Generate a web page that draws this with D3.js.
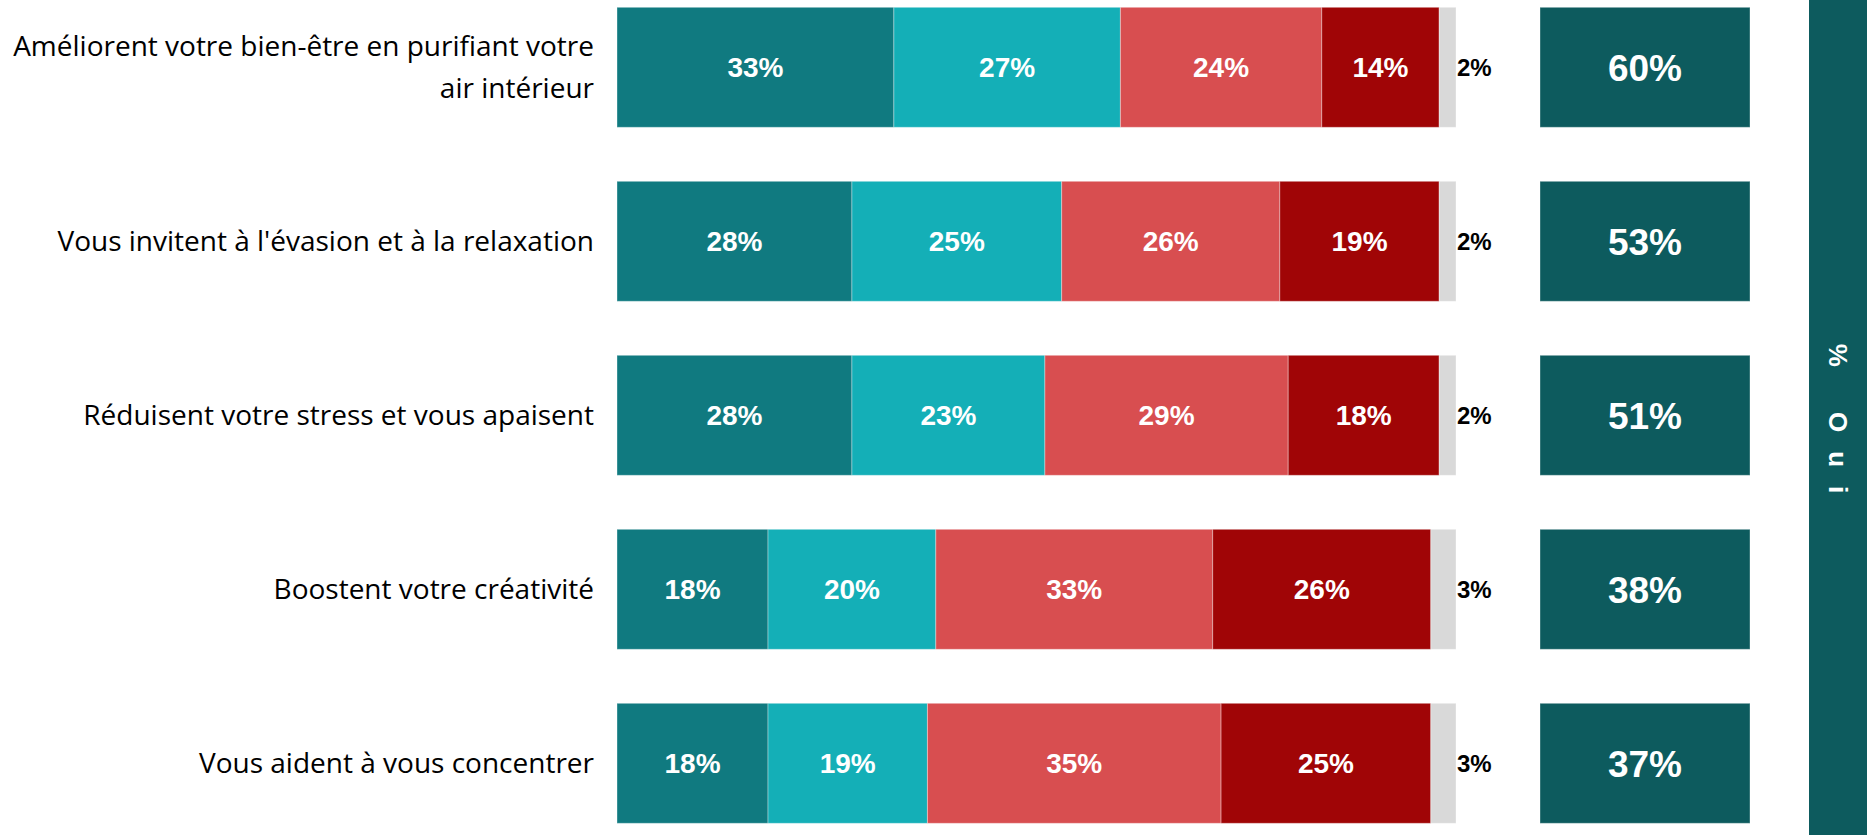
<!DOCTYPE html>
<html>
<head>
<meta charset="utf-8">
<script src="https://cdn.jsdelivr.net/npm/d3@7"></script>
<style>
  html, body { margin: 0; padding: 0; background: #ffffff; }
  svg { display: block; }
</style>
</head>
<body>
<svg id="chart" width="1871" height="835"></svg>
<script>
const categories = [
  "Améliorent votre bien-être en purifiant votre air intérieur",
  "Vous invitent à l'évasion et à la relaxation",
  "Réduisent votre stress et vous apaisent",
  "Boostent votre créativité",
  "Vous aident à vous concentrer"
];
const seriesA = [33, 28, 28, 18, 18];
const seriesB = [27, 25, 23, 20, 19];
const seriesC = [24, 26, 29, 33, 35];
const seriesD = [14, 19, 18, 26, 25];
const seriesE = [2, 2, 2, 3, 3];
const ouiValues = [60, 53, 51, 38, 37];
const ouiTitle = "% Oui";

const seriesKeys = ["A", "B", "C", "D", "E"];
const colors = { A: "#107a80", B: "#14afb7", C: "#d84e50", D: "#a00506", E: "#d9d9d9" };

const rows = categories.map((c, i) => ({
  cat: c, A: seriesA[i], B: seriesB[i], C: seriesC[i], D: seriesD[i], E: seriesE[i], oui: ouiValues[i]
}));

const svg = d3.select("#chart");
const x = d3.scaleLinear().domain([0, 100]).range([617, 1456]);
const y = d3.scaleBand().domain(categories).range([7.3, 823.3]).paddingInner(54 / 174).paddingOuter(0);

const stacked = d3.stack().keys(seriesKeys)(rows);

const layers = svg.append("g").selectAll("g").data(stacked).join("g")
  .attr("fill", d => colors[d.key]);

layers.selectAll("rect").data(d => d.map(v => ({ v, key: d.key }))).join("rect")
  .attr("x", d => x(d.v[0]))
  .attr("y", d => y(d.v.data.cat))
  .attr("width", d => x(d.v[1]) - x(d.v[0]))
  .attr("height", y.bandwidth())
  .attr("stroke", "#ffffff")
  .attr("stroke-opacity", 0.35)
  .attr("stroke-width", 1);

// labels inside segments
layers.selectAll("text").data(d => d.map(v => ({ v, key: d.key }))).join("text")
  .attr("x", d => d.key === "E" ? x(d.v[1]) + 1 : (x(d.v[0]) + x(d.v[1])) / 2)
  .attr("y", d => y(d.v.data.cat) + y.bandwidth() / 2)
  .attr("dy", "0.36em")
  .attr("text-anchor", d => d.key === "E" ? "start" : "middle")
  .attr("fill", d => d.key === "E" ? "#000000" : "#ffffff")
  .style("font-family", "'Liberation Sans', Arial, sans-serif")
  .style("font-weight", "bold")
  .style("font-size", d => d.key === "E" ? "24px" : "28px")
  .text(d => (d.v[1] - d.v[0]) + "%");

// category labels
const lab = svg.append("g").selectAll("text").data(rows).join("text")
  .attr("text-anchor", "end")
  .style("font-family", "'Open Sans', sans-serif")
  .style("font-size", "28px")
  .attr("fill", "#000000");

lab.each(function(d) {
  const t = d3.select(this);
  const words = d.cat.split(" ");
  const lines = [];
  let line = [];
  const probe = t.append("tspan");
  words.forEach(w => {
    line.push(w);
    probe.text(line.join(" "));
    if (probe.node().getComputedTextLength() > 600 && line.length > 1) {
      line.pop();
      lines.push(line.join(" "));
      line = [w];
    }
  });
  lines.push(line.join(" "));
  probe.remove();
  const cy = y(d.cat) + y.bandwidth() / 2;
  const lh = 42;
  lines.forEach((ln, k) => {
    t.append("tspan")
      .attr("x", 594)
      .attr("y", cy + 9.5 + (k - (lines.length - 1) / 2) * lh)
      .text(ln);
  });
});

// right boxes (% Oui)
const bx = d3.scaleLinear().domain([0, 1]).range([1540, 1750]);
const box = svg.append("g").selectAll("g").data(rows).join("g");
box.append("rect")
  .attr("x", bx(0))
  .attr("y", d => y(d.cat))
  .attr("width", bx(1) - bx(0))
  .attr("height", y.bandwidth())
  .attr("fill", "#0d5b5e")
  .attr("stroke", "#ffffff").attr("stroke-opacity", 0.35);
box.append("text")
  .attr("x", (bx(0) + bx(1)) / 2)
  .attr("y", d => y(d.cat) + y.bandwidth() / 2)
  .attr("dy", "0.36em")
  .attr("text-anchor", "middle")
  .attr("fill", "#ffffff")
  .style("font-family", "'Liberation Sans', Arial, sans-serif")
  .style("font-weight", "bold")
  .style("font-size", "37px")
  .text(d => d.oui + "%");

// vertical title bar
svg.append("rect").attr("x", 1809).attr("y", 0).attr("width", 58).attr("height", 835).attr("fill", "#0d5b5e");
svg.append("text")
  .attr("transform", "translate(1838,428) rotate(90)")
  .attr("text-anchor", "middle")
  .attr("dy", "0.36em")
  .attr("fill", "#ffffff")
  .style("font-family", "'Liberation Sans', Arial, sans-serif")
  .style("font-weight", "bold")
  .style("font-size", "26px")
  .style("letter-spacing", "19px")
  .text(ouiTitle);
</script>
</body>
</html>
